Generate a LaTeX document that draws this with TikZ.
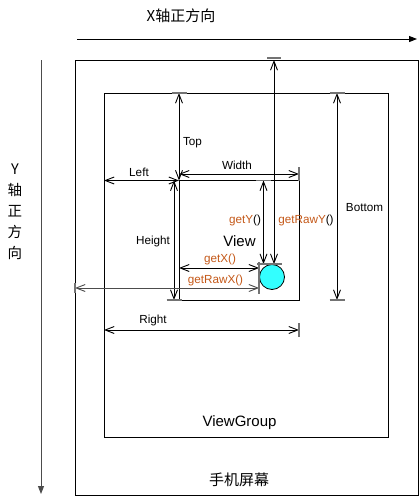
\documentclass[tikz,border=0pt]{standalone}
\usepackage{fontspec}
\setmainfont{Liberation Sans}
\newfontfamily\cjk{Noto Sans CJK SC}
\usepackage{tikz}
\usetikzlibrary{arrows.meta}
\definecolor{getcol}{RGB}{196,88,24}
\definecolor{ballcol}{RGB}{51,255,255}
\tikzset{
  dim/.style={<->, line width=0.9pt},
  tick/.style={draw=black!55, line width=1.5pt},
  lbl/.style={font=\fontsize{11.7}{13}\selectfont},
  getlbl/.style={lbl, text=getcol},
  big/.style={font=\fontsize{15}{18}\selectfont},
  box/.style={draw, line width=1pt}
}

\begin{document}
\begin{tikzpicture}[x=1pt,y=-1pt,>={Straight Barb[length=9pt,width=7pt]}]
\useasboundingbox (0,0) rectangle (419,496);
% axes
\coordinate (xs) at (77,39);
\coordinate (xe) at (417,39);
\coordinate (ys) at (41,60);
\coordinate (ye) at (41,494);
\draw[line width=1pt, -{Triangle[length=8pt,width=6pt]}] (xs) -- (xe);
\draw[line width=1pt, draw=black!70, -{Triangle[length=8pt,width=6pt]}] (ys) -- (ye);
\node[font=\cjk\fontsize{15}{18}\selectfont] (xlab) at (181,16) {X轴正方向};
\node[align=center, font=\cjk\fontsize{14.5}{21}\selectfont] (ylab) at (15,212) {Y\\轴\\正\\方\\向};

% boxes
\coordinate (scr tl) at (75,60);
\coordinate (scr br) at (418,495);
\coordinate (grp tl) at (104,93);
\coordinate (grp br) at (388,437);
\coordinate (view tl) at (179,180.5);
\coordinate (view br) at (299,300);
\draw[box] (scr tl) rectangle (scr br);
\draw[box] (grp tl) rectangle (grp br);
\draw[box] (view tl) rectangle (view br);
\node[circle, draw, fill=ballcol, minimum size=25pt, inner sep=0pt, line width=0.8pt] (ball) at (272,277) {};

\node[big] (view) at (239.5,241) {View};
\node[big] (group) at (239.5,423) {ViewGroup};
\node[font=\cjk\fontsize{15}{18}\selectfont] (screen) at (239,480) {手机屏幕};

% dimension lines
\coordinate (wd) at (0,174);
\coordinate (ht) at (174,0);
\coordinate (gy) at (263.5,0);
\coordinate (gry) at (274,0);
\coordinate (bt) at (337,0);
\coordinate (gx) at (0,268);
\coordinate (grx) at (0,288);
\coordinate (rt) at (0,330);

\draw[dim] (view tl |- grp tl) -- (view tl);
\draw[dim] (grp tl |- view tl) -- (view tl);
\draw[dim] (view tl |- wd) -- (view br |- wd);
\draw[dim] (ht |- view tl) -- (ht |- view br);
\draw[dim] (gy |- view tl) -- (gy |- ball.north);
\draw[dim] (gry |- scr tl) -- (gry |- ball.north);
\draw[dim] (bt |- grp tl) -- (bt |- view br);
\draw[dim] (view tl |- gx) -- (ball.west |- gx);
\draw[dim, draw=black!70] (scr tl |- grx) -- (ball.west |- grx);
\draw[dim] (grp tl |- rt) -- (view br |- rt);

% end bars
\foreach \p in {view tl |- grp tl, bt |- grp tl, bt |- view br, ht |- view br, gy |- view tl}
  \draw[tick] ([xshift=-7.5pt]\p) -- ([xshift=7.5pt]\p);
\draw[tick] ([xshift=-7pt,yshift=2pt]gry |- scr tl) -- ([xshift=7pt,yshift=2pt]gry |- scr tl);
\draw[tick] ([xshift=-6.5pt]gy |- ball.north) -- ([xshift=8pt]gry |- ball.north);
\foreach \p in {view br |- wd, view br |- rt}
  \draw[tick] ([yshift=-7pt]\p) -- ([yshift=7pt]\p);
\draw[tick] ([yshift=-5pt]scr tl |- grx) -- ([yshift=5pt]scr tl |- grx);
\draw[tick] ([yshift=6pt]ball.west |- gx) -- ([yshift=-6pt]ball.west |- grx);

% labels
\node[lbl] (top) at (192.5,142.5) {Top};
\node[lbl] (left) at (139,172) {Left};
\node[lbl] (width) at (237,165.5) {Width};
\node[lbl] (height) at (153,241) {Height};
\node[lbl] (bottom) at (364.5,208) {Bottom};
\node[lbl] (right) at (153,320) {Right};
\node[getlbl] (gety) at (245,220) {getY\textcolor{black}{()}};
\node[getlbl] (getrawy) at (306,220) {getRawY\textcolor{black}{()}};
\node[getlbl] (getx) at (220,259.5) {getX()};
\node[getlbl] (getrawx) at (215.5,280) {getRawX()};
\end{tikzpicture}
\end{document}
